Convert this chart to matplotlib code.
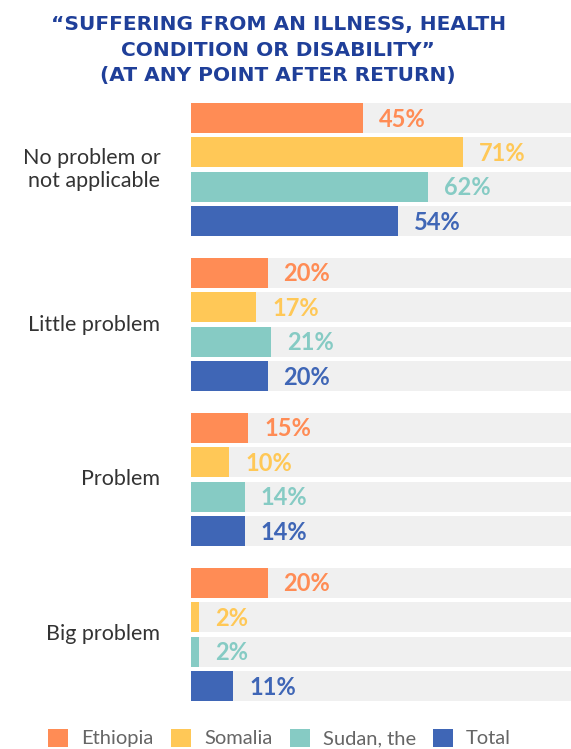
import matplotlib.pyplot as plt
from matplotlib.patches import Patch

CATEGORIES = ['No problem or\nnot applicable', 'Little problem', 'Problem', 'Big problem']
SERIES = ['Ethiopia', 'Somalia', 'Sudan, the', 'Total']
COLORS = ['#FF8C55', '#FFC857', '#86CBC4', '#3F66B6']
VALUES = {
    'Ethiopia': [45, 20, 15, 20],
    'Somalia': [71, 17, 10, 2],
    'Sudan, the': [62, 21, 14, 2],
    'Total': [54, 20, 14, 11],
}
TITLE = '\u201cSUFFERING FROM AN ILLNESS, HEALTH\nCONDITION OR DISABILITY\u201d\n(AT ANY POINT AFTER RETURN)'

GROUP_STEP = 4.5
BAR_H = 0.87

fig = plt.figure(figsize=(5.71, 7.49), dpi=100)
ax = fig.add_axes([191 / 571, 1 - 701 / 749, 1 - 191 / 571, 598 / 749])

for s, name in enumerate(SERIES):
    ys = [g * GROUP_STEP + s for g in range(len(CATEGORIES))]
    ax.barh(ys, [100] * len(ys), height=BAR_H, color='#F0F0F0', zorder=1)
    ax.barh(ys, VALUES[name], height=BAR_H, color=COLORS[s], zorder=2)
    for y, v in zip(ys, VALUES[name]):
        ax.text(v + 4.2, y + 0.03, f'{v}%', color=COLORS[s], fontsize=17,
                fontweight='bold', family='Lato', va='center', ha='left')

for g, cat in enumerate(CATEGORIES):
    ax.text(-8, g * GROUP_STEP + 1.5, cat, ha='right', va='center', fontsize=15.5,
            color='#333333', family='Lato', linespacing=1.2, clip_on=False)

ax.set_xlim(0, 99.3)
ax.set_ylim(3 * GROUP_STEP + 3 + BAR_H / 2, -BAR_H / 2)
ax.axis('off')

fig.text(0.487, 1 - 50 / 749, TITLE, ha='center', va='center', fontsize=14.5,
         fontweight='bold', color='#1F3F99', family='DejaVu Sans', linespacing=1.42)

handles = [Patch(facecolor=c, label=n) for c, n in zip(COLORS, SERIES)]
fig.legend(handles=handles, loc='center', bbox_to_anchor=(0.49, 1 - 738 / 749), ncol=4,
           frameon=False, prop={'family': 'Lato', 'size': 14.5}, labelcolor='#666666',
           handlelength=1.0, handleheight=1.0, handletextpad=0.65, columnspacing=0.85)

fig.savefig('out.png', dpi=100)
